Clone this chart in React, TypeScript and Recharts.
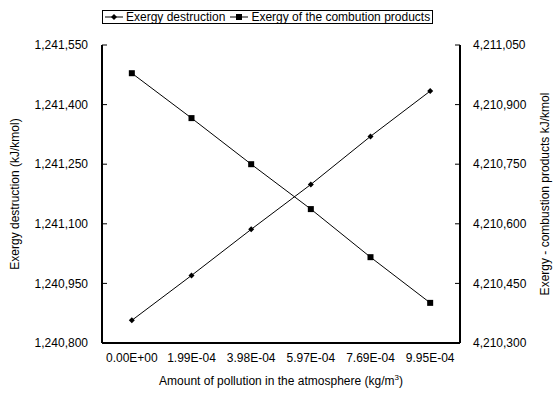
import React from "react";
import {
  LineChart,
  Line,
  XAxis,
  YAxis,
  Legend,
  Label,
} from "recharts";

// categories (amount of pollution, kg/m3)
const pollutionLabels: string[] = [
  "0.00E+00",
  "1.99E-04",
  "3.98E-04",
  "5.97E-04",
  "7.69E-04",
  "9.95E-04",
];

// series values (kJ/kmol)
const exergyDestruction: number[] = [
  1240857, 1240970, 1241086, 1241199, 1241320, 1241434,
];
const exergyCombustion: number[] = [
  4210979, 4210866, 4210750, 4210637, 4210516, 4210401,
];

// tick values
const leftTicks: number[] = [1240800, 1240950, 1241100, 1241250, 1241400, 1241550];
const rightTicks: number[] = [4210300, 4210450, 4210600, 4210750, 4210900, 4211050];
const centerTicks: number[] = [0, 1, 2, 3, 4, 5];
const edgeTicks: number[] = [-0.5, 0.5, 1.5, 2.5, 3.5, 4.5, 5.5];

const data = pollutionLabels.map((label, i) => ({
  idx: i,
  label,
  destruction: exergyDestruction[i],
  combustion: exergyCombustion[i],
}));

const FONT = "'Liberation Sans', Arial, sans-serif";
const fmt = (v: number) => v.toLocaleString("en-US");

const Diamond = (props: any) => {
  const { cx, cy } = props;
  if (cx == null || cy == null) return null;
  return (
    <path
      d={`M${cx},${cy - 3}L${cx + 3},${cy}L${cx},${cy + 3}L${cx - 3},${cy}Z`}
      fill="#000"
    />
  );
};

const Square = (props: any) => {
  const { cx, cy } = props;
  if (cx == null || cy == null) return null;
  return <rect x={cx - 3} y={cy - 3} width={6} height={6} fill="#000" />;
};

const LegendBox = (props: any) => {
  const { payload } = props;
  return (
    <div
      style={{
        display: "flex",
        alignItems: "center",
        border: "1px solid #000",
        boxSizing: "border-box",
        height: 14,
        padding: "0 2px",
        fontFamily: FONT,
        fontSize: 12,
        lineHeight: "12px",
        background: "#fff",
        whiteSpace: "nowrap",
      }}
    >
      {(payload || []).map((p: any, i: number) => (
        <span
          key={i}
          style={{ display: "flex", alignItems: "center", marginRight: i === 0 ? 5 : 0 }}
        >
          <svg width={18} height={10} style={{ marginRight: 3 }}>
            <line x1={0} y1={5} x2={18} y2={5} stroke="#000" strokeWidth={1} />
            {p.dataKey === "destruction" ? (
              <path d="M9,2L12,5L9,8L6,5Z" fill="#000" />
            ) : (
              <rect x={6} y={2} width={6} height={6} fill="#000" />
            )}
          </svg>
          <span>{p.value}</span>
        </span>
      ))}
    </div>
  );
};

const tickStyle = { fill: "#000", fontSize: 12, fontFamily: FONT };

export default function App() {
  return (
    <div style={{ position: "absolute", left: 0, top: 0, background: "#fff" }}>
      <LineChart
        width={553}
        height={394}
        data={data}
        margin={{ top: 31, right: 0, bottom: 0, left: 0 }}
      >
        <Legend
          verticalAlign="top"
          align="left"
          content={<LegendBox />}
          wrapperStyle={{ top: 10, left: 102, width: "auto" }}
        />
        <XAxis
          xAxisId="edge"
          type="number"
          dataKey="idx"
          domain={[-0.5, 5.5]}
          ticks={edgeTicks}
          tickFormatter={() => ""}
          tickSize={-5}
          tickLine={{ stroke: "#000", strokeWidth: 1 }}
          axisLine={false}
          height={0}
          allowDataOverflow
        />
        <XAxis
          xAxisId="cat"
          type="number"
          dataKey="idx"
          domain={[-0.5, 5.5]}
          ticks={centerTicks}
          tickFormatter={(v: number) => pollutionLabels[v] ?? ""}
          tickLine={false}
          tickMargin={4}
          axisLine={{ stroke: "#000", strokeWidth: 2 }}
          tick={tickStyle}
          height={51}
          allowDataOverflow
        >
          <Label
            content={(p: any) => {
              const vb = p.viewBox;
              return (
                <text
                  x={vb.x + vb.width / 2}
                  y={vb.y + 42}
                  textAnchor="middle"
                  fontSize={12}
                  fontFamily={FONT}
                  fill="#000"
                >
                  Amount of pollution in the atmosphere (kg/m
                  <tspan dy={-5} fontSize={8}>3</tspan>
                  <tspan dy={5}>)</tspan>
                </text>
              );
            }}
          />
        </XAxis>
        <YAxis
          yAxisId="left"
          orientation="left"
          width={102}
          domain={[1240800, 1241550]}
          ticks={leftTicks}
          tickFormatter={fmt}
          tickSize={-5}
          tickMargin={19}
          tickLine={{ stroke: "#000", strokeWidth: 1 }}
          axisLine={{ stroke: "#000", strokeWidth: 2 }}
          tick={tickStyle}
          allowDataOverflow
        >
          <Label
            content={(p: any) => {
              const vb = p.viewBox;
              const cx = vb.x + 15;
              const cy = vb.y + vb.height / 2;
              return (
                <text
                  x={cx}
                  y={cy}
                  transform={`rotate(-90 ${cx} ${cy})`}
                  textAnchor="middle"
                  dominantBaseline="central"
                  fontSize={12}
                  fontFamily={FONT}
                  fill="#000"
                >
                  Exergy destruction (kJ/kmol)
                </text>
              );
            }}
          />
        </YAxis>
        <YAxis
          yAxisId="right"
          orientation="right"
          width={93}
          domain={[4210300, 4211050]}
          ticks={rightTicks}
          tickFormatter={fmt}
          tickSize={-5}
          tickMargin={18}
          tickLine={{ stroke: "#000", strokeWidth: 1 }}
          axisLine={{ stroke: "#000", strokeWidth: 2 }}
          tick={tickStyle}
          allowDataOverflow
        >
          <Label
            content={(p: any) => {
              const vb = p.viewBox;
              const cx = vb.x + 85;
              const cy = vb.y + vb.height / 2;
              return (
                <text
                  x={cx}
                  y={cy}
                  transform={`rotate(-90 ${cx} ${cy})`}
                  textAnchor="middle"
                  dominantBaseline="central"
                  fontSize={12}
                  fontFamily={FONT}
                  fill="#000"
                >
                  Exergy - combustion products kJ/kmol
                </text>
              );
            }}
          />
        </YAxis>
        <Line
          xAxisId="cat"
          yAxisId="left"
          dataKey="destruction"
          name="Exergy destruction"
          stroke="#000"
          strokeWidth={1}
          dot={<Diamond />}
          activeDot={false}
          isAnimationActive={false}
        />
        <Line
          xAxisId="cat"
          yAxisId="right"
          dataKey="combustion"
          name="Exergy of the combution products"
          stroke="#000"
          strokeWidth={1}
          dot={<Square />}
          activeDot={false}
          isAnimationActive={false}
        />
      </LineChart>
    </div>
  );
}
